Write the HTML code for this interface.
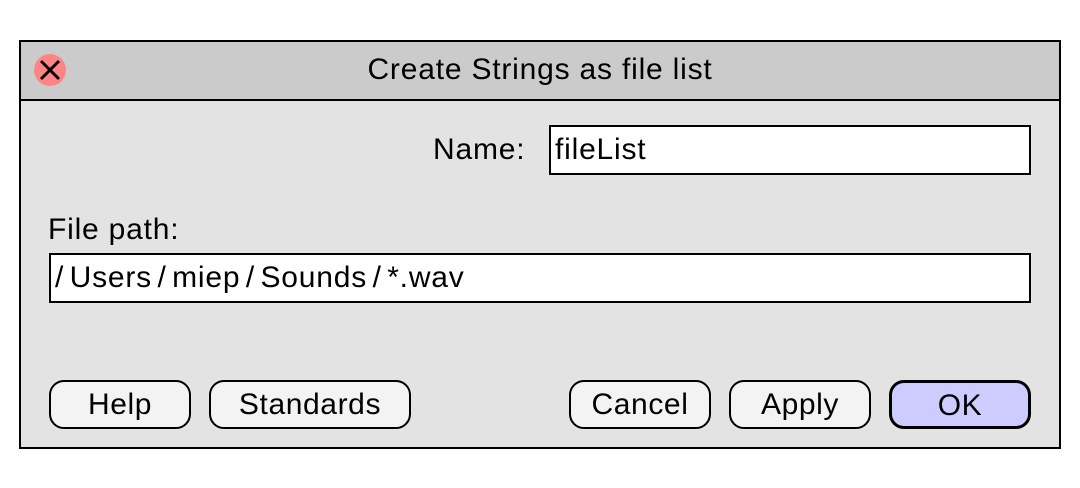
<!DOCTYPE html>
<html><head><style>
body{margin:0;width:1080px;height:488px;background:#fff;font-family:"Liberation Sans",sans-serif;position:relative;overflow:hidden}
.a{position:absolute;box-sizing:border-box}
.dlg{left:19px;top:40px;width:1042px;height:409px;border:2px solid #000;background:#e3e3e3}
.tb{left:19px;top:40px;width:1042px;height:61px;border:2px solid #000;background:#cbcbcb}
.t{font-size:30px;color:#000;line-height:1;letter-spacing:0.8px;white-space:nowrap}
.f{background:#fff;border:2px solid #000}
.b{border:2px solid #000;border-radius:15px;background:#f3f3f3;font-size:30px;letter-spacing:0.6px;text-align:center;line-height:46px;height:49px;top:380px}
.s{margin:0 5.5px}
</style></head><body>
<div class="a dlg"></div>
<div class="a tb"></div>
<div class="a" style="left:34px;top:54px;width:32px;height:32px;border-radius:50%;background:#ff8585"></div>
<svg class="a" style="left:34px;top:54px" width="32" height="32"><path d="M7 7L25 25M25 7L7 25" stroke="#000" stroke-width="3"/></svg>
<div class="a t" style="left:0;width:1080px;top:55px;text-align:center">Create Strings as file list</div>
<div class="a t" style="left:433px;top:135px">Name:</div>
<div class="a f" style="left:549px;top:125px;width:482px;height:50px"></div>
<div class="a t" style="left:555px;top:135px">fileList</div>
<div class="a t" style="left:48px;top:215px">File path:</div>
<div class="a f" style="left:49px;top:253px;width:982px;height:50px"></div>
<div class="a t" style="left:55px;top:263px"><span class="s" style="margin-left:0">/</span>Users<span class="s">/</span>miep<span class="s">/</span>Sounds<span class="s">/</span>*.wav</div>
<div class="a b" style="left:49px;width:142px">Help</div>
<div class="a b" style="left:209px;width:202px">Standards</div>
<div class="a b" style="left:569px;width:142px">Cancel</div>
<div class="a b" style="left:729px;width:142px">Apply</div>
<div class="a b" style="left:889px;width:142px;border-width:3px;background:#ccccff;line-height:45px">OK</div>
</body></html>
